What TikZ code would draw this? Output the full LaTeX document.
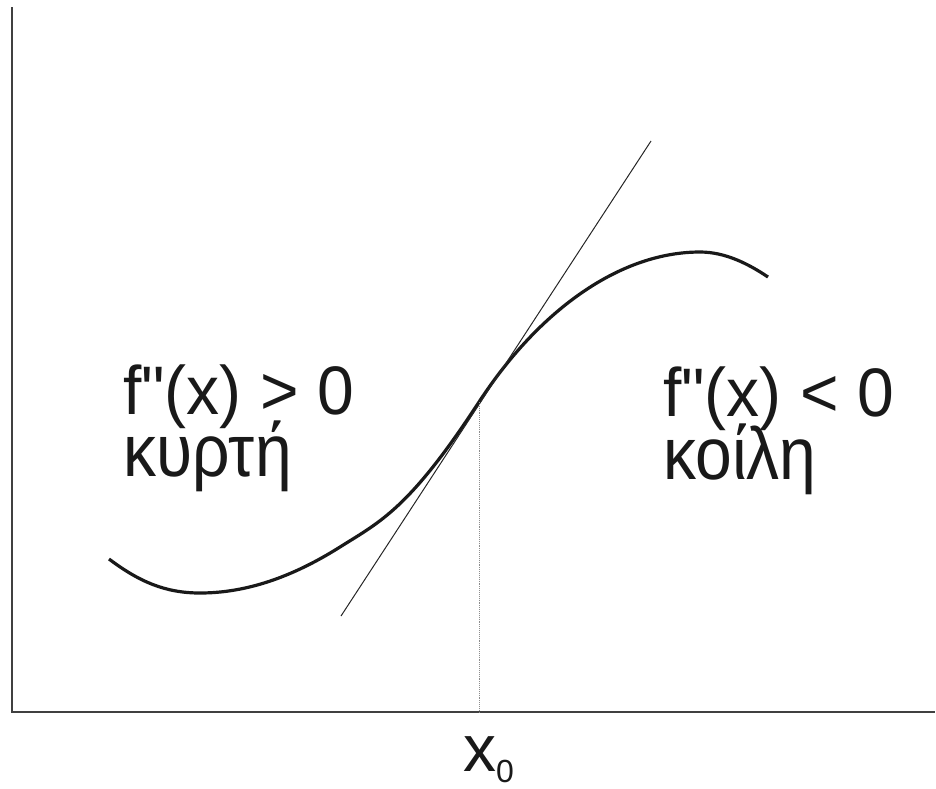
\documentclass[tikz,border=0pt]{standalone}
\usepackage{fontspec}
\newfontfamily\lsans{Liberation Sans}
\newcommand{\greekline}[1]{\scalebox{1}[1.12]{#1}}
\newcommand{\latinline}[1]{\scalebox{1}[1.04]{#1}}
\begin{document}
\begin{tikzpicture}[x=1pt,y=-1pt,
  axis/.style={line width=1.6pt,draw=black!75},
  curvestyle/.style={line width=3.2pt,draw=black!90,line cap=butt},
  tangent/.style={line width=1pt,draw=black!85},
  guide/.style={line width=0.9pt,draw=black!45,densely dotted},
  lbl/.style={font=\lsans\fontsize{66}{70}\selectfont,inner sep=0pt,anchor=base west,text=black!90}]
\useasboundingbox (0,0) rectangle (936,788);
% axes
\coordinate (ytop) at (12,7);
\coordinate (origin) at (12,712);
\coordinate (xend) at (935,712);
\draw[axis] (ytop) -- (origin) -- (xend);
% curve
\coordinate (cS) at (109,559);
\coordinate (cMin) at (200,593);
\coordinate (cM) at (340,547);
\coordinate (infl) at (479,402);
\coordinate (cMax) at (700,252);
\coordinate (cE) at (768,277);
\draw[curvestyle] (cS) .. controls (139,581.5) and (165,593) .. (cMin)
  .. controls (247,593) and (293,576.6) .. (cM)
  .. controls (380,521.8) and (409,509.2) .. (infl)
  .. controls (539,310.1) and (620,252) .. (cMax)
  .. controls (725,252) and (748,263.6) .. (cE);
% tangent
\coordinate (tA) at (341,616);
\coordinate (tB) at (651,141);
\draw[tangent] (tA) -- (tB);
% guide
\coordinate (foot) at (479,712);
\draw[guide] (infl) -- (foot);
% labels
\node[lbl] (l1) at (123,414) {\latinline{f\symbol{34}(x) > 0}};
\node[lbl] (l2) at (123,476) {\greekline{κυρτή}};
\node[lbl] (r1) at (663,416) {\latinline{f\symbol{34}(x) < 0}};
\node[lbl] (r2) at (663,479) {\greekline{κοίλη}};
\node[lbl] (x0) at (463,771) {x\raisebox{-0.18em}{\fontsize{32}{34}\selectfont 0}};
\end{tikzpicture}
\end{document}
